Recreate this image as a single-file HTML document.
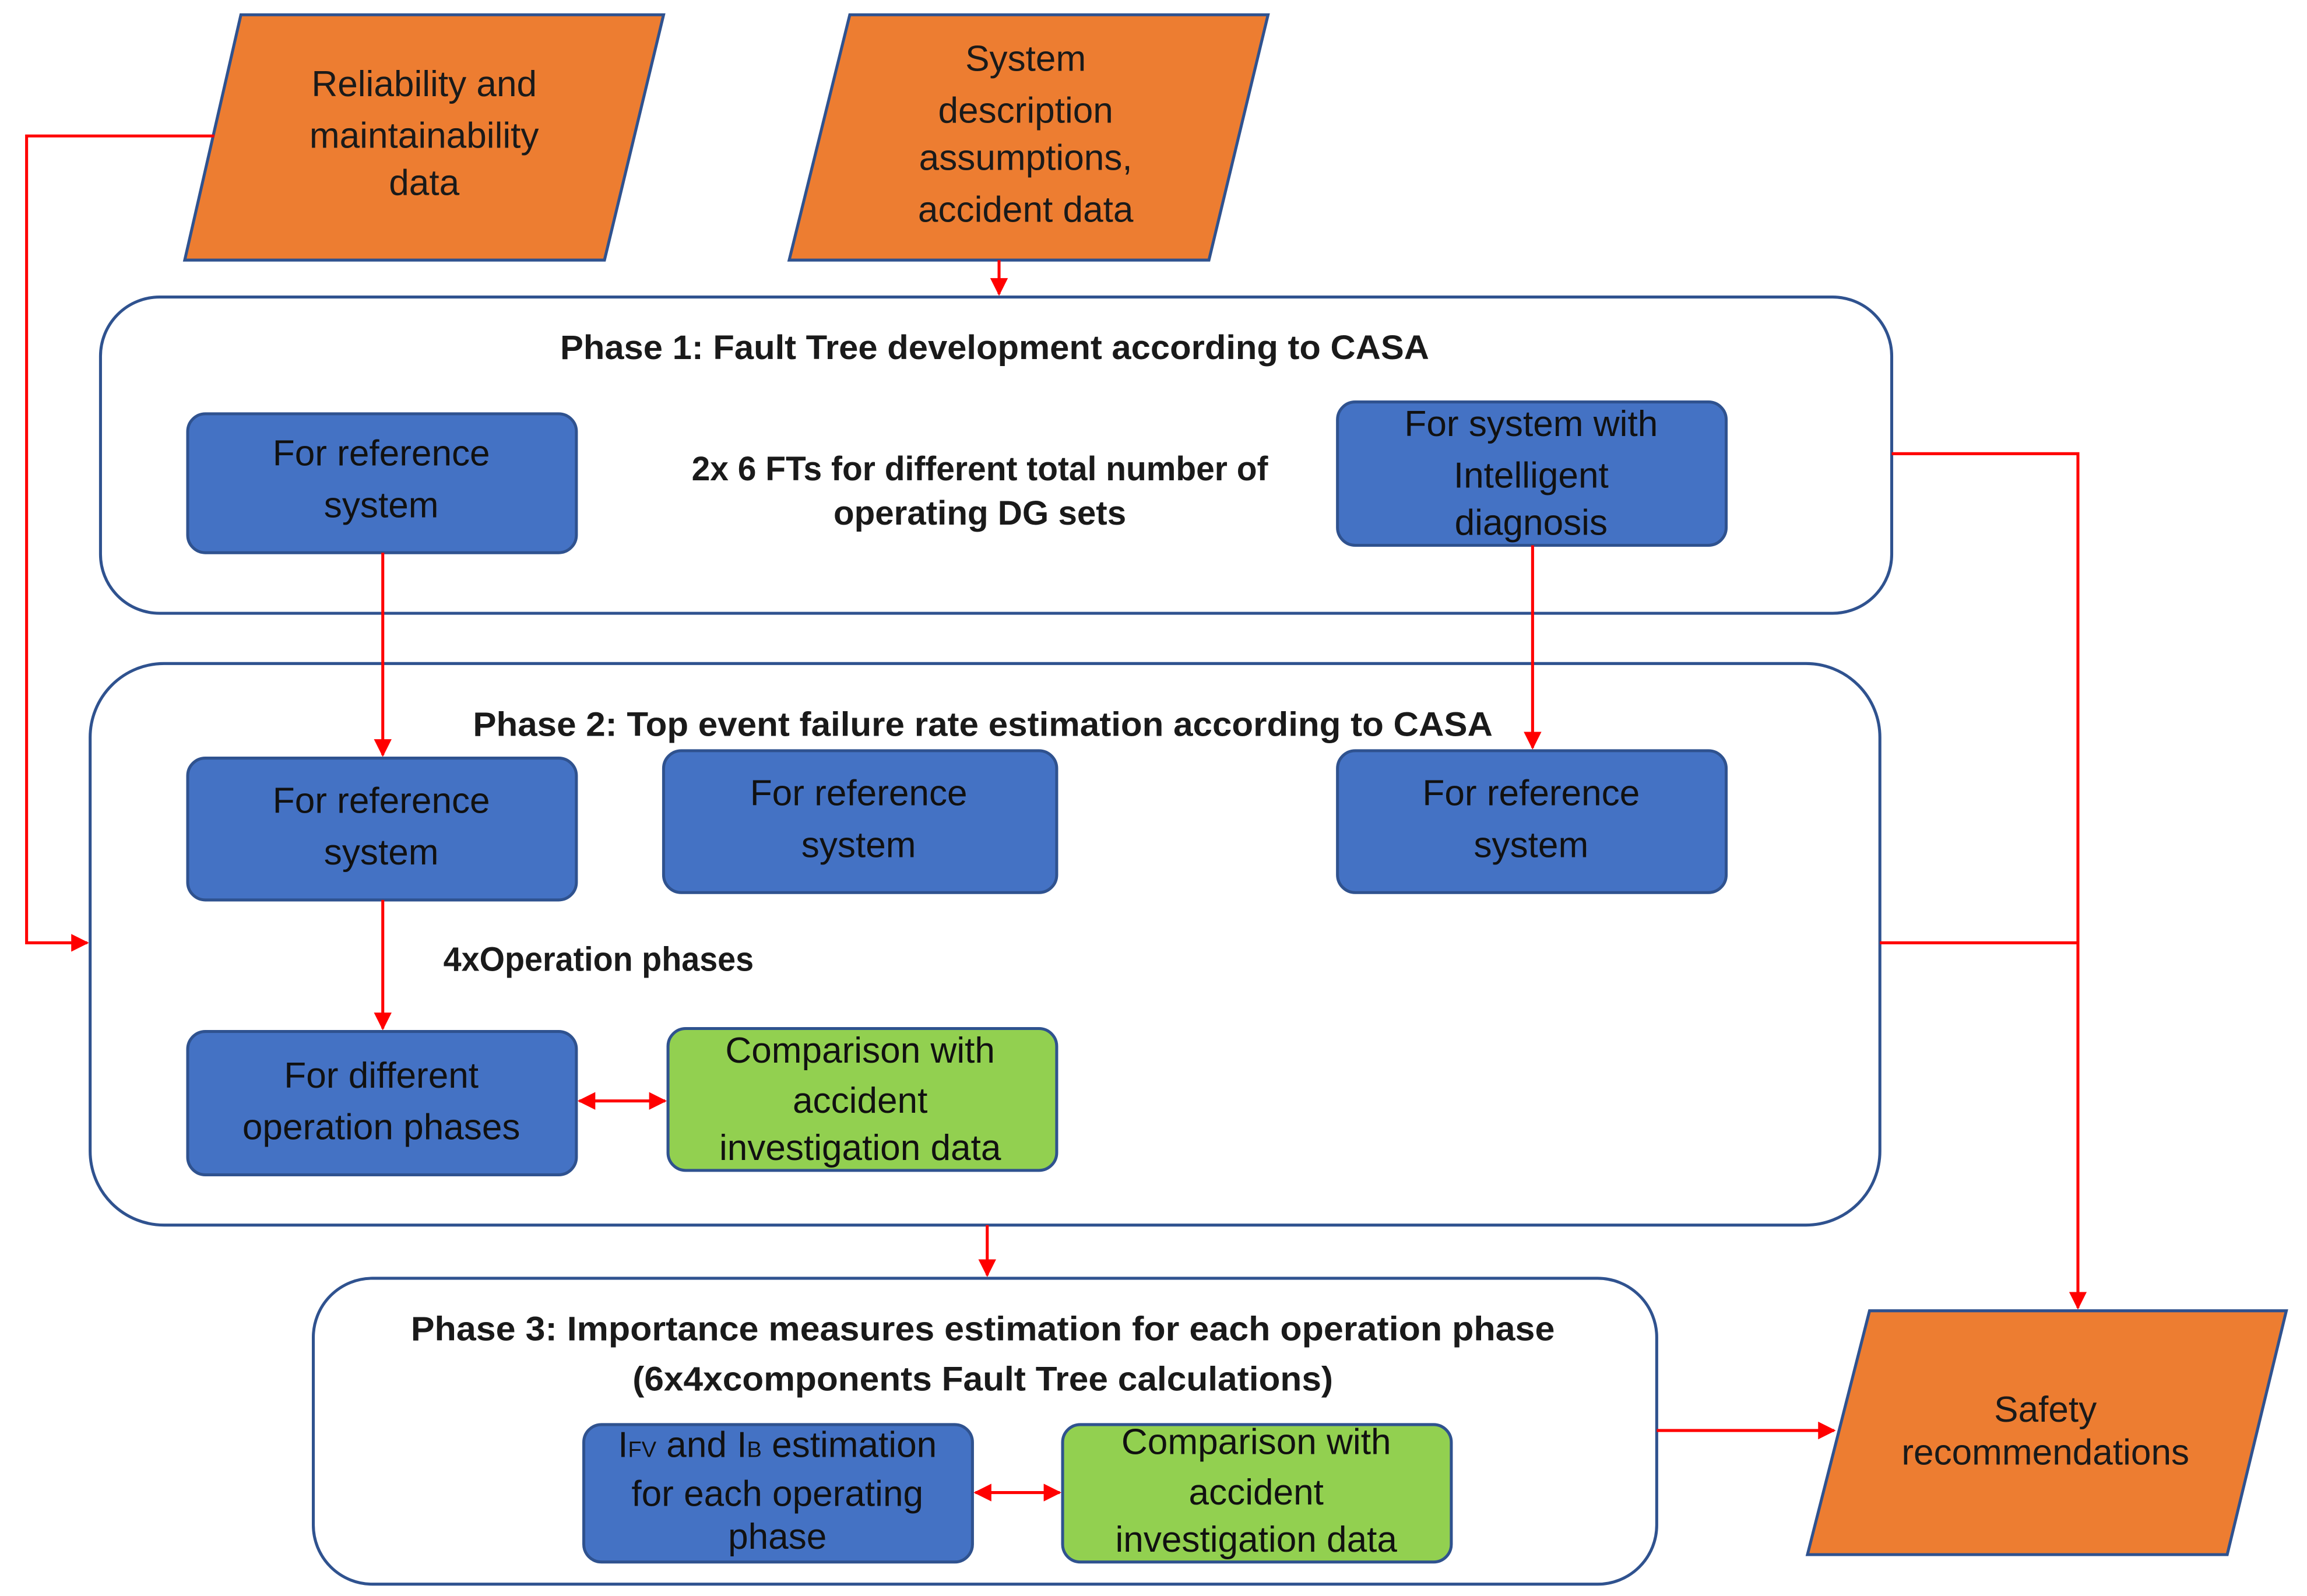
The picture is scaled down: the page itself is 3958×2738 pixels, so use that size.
<!DOCTYPE html>
<html><head><meta charset="utf-8"><style>html,body{margin:0;padding:0;background:#fff}svg{display:block}</style></head>
<body>
<svg width="3958" height="2738" viewBox="0 0 1561 1080" preserveAspectRatio="none" xmlns="http://www.w3.org/2000/svg" font-family="Liberation Sans, sans-serif">
<defs>
<marker id="a" viewBox="0 0 10 10" refX="9" refY="5" markerWidth="6" markerHeight="6" orient="auto-start-reverse"><path d="M0,0L10,5L0,10z" fill="#f00"/></marker>
</defs>
<g fill="#ED7D31" stroke="#2F528F" stroke-width="2">
<polygon points="163,10 449,10 409,176 125,176"/>
<polygon points="575,10 858,10 818,176 534,176"/>
<polygon points="1265,887 1547,887 1507,1052 1223,1052"/>
</g>
<g fill="#fff" stroke="#2F528F" stroke-width="2">
<rect x="68" y="201" width="1212" height="214" rx="40"/>
<rect x="61" y="449" width="1211" height="380" rx="50"/>
<rect x="212" y="865" width="909" height="207" rx="40"/>
</g>
<g fill="#4472C4" stroke="#2F528F" stroke-width="2">
<rect x="127" y="280" width="263" height="94" rx="12"/>
<rect x="905" y="272" width="263" height="97" rx="12"/>
<rect x="127" y="513" width="263" height="96" rx="12"/>
<rect x="449" y="508" width="266" height="96" rx="12"/>
<rect x="905" y="508" width="263" height="96" rx="12"/>
<rect x="127" y="698" width="263" height="97" rx="12"/>
<rect x="395" y="964" width="263" height="93" rx="12"/>
</g>
<g fill="#92D050" stroke="#2F528F" stroke-width="2">
<rect x="452" y="696" width="263" height="96" rx="12"/>
<rect x="719" y="964" width="263" height="93" rx="12"/>
</g>
<g fill="none" stroke="#f00" stroke-width="2">
<polyline points="145,92 18,92 18,638 59,638" marker-end="url(#a)"/>
<line x1="676" y1="176" x2="676" y2="199" marker-end="url(#a)"/>
<line x1="259" y1="374" x2="259" y2="511" marker-end="url(#a)"/>
<line x1="1037" y1="369" x2="1037" y2="506" marker-end="url(#a)"/>
<line x1="259" y1="609" x2="259" y2="696" marker-end="url(#a)"/>
<line x1="392" y1="745" x2="450" y2="745" marker-start="url(#a)" marker-end="url(#a)"/>
<line x1="668" y1="829" x2="668" y2="863" marker-end="url(#a)"/>
<line x1="660" y1="1010" x2="717" y2="1010" marker-start="url(#a)" marker-end="url(#a)"/>
<line x1="1121" y1="968" x2="1241" y2="968" marker-end="url(#a)"/>
<polyline points="1280,307 1406,307 1406,885" marker-end="url(#a)"/>
<line x1="1272" y1="638" x2="1406" y2="638"/>
</g>
<g font-size="24.5" text-anchor="middle" fill="#1a1a1a">
<text x="287" y="65">Reliability and</text><text x="287" y="100">maintainability</text><text x="287" y="132">data</text>
<text x="694" y="48">System</text><text x="694" y="83">description</text><text x="694" y="115">assumptions,</text><text x="694" y="150">accident data</text>
<text x="1384" y="962">Safety</text><text x="1384" y="991">recommendations</text>
</g>
<g font-size="23" font-weight="bold" text-anchor="middle" fill="#1a1a1a">
<text x="673" y="243" textLength="588" lengthAdjust="spacingAndGlyphs">Phase 1: Fault Tree development according to CASA</text>
<text x="663" y="325" textLength="390" lengthAdjust="spacingAndGlyphs">2x 6 FTs for different total number of</text>
<text x="663" y="355">operating DG sets</text>
<text x="665" y="498" textLength="690" lengthAdjust="spacingAndGlyphs">Phase 2: Top event failure rate estimation according to CASA</text>
<text x="405" y="657" textLength="210" lengthAdjust="spacingAndGlyphs">4xOperation phases</text>
<text x="665" y="907" textLength="774" lengthAdjust="spacingAndGlyphs">Phase 3: Importance measures estimation for each operation phase</text>
<text x="665" y="941" textLength="474" lengthAdjust="spacingAndGlyphs">(6x4xcomponents Fault Tree calculations)</text>
</g>
<g font-size="24.5" text-anchor="middle" fill="#111">
<text x="258" y="315">For reference</text><text x="258" y="350">system</text>
<text x="1036" y="295">For system with</text><text x="1036" y="330">Intelligent</text><text x="1036" y="362">diagnosis</text>
<text x="258" y="550">For reference</text><text x="258" y="585">system</text>
<text x="581" y="545">For reference</text><text x="581" y="580">system</text>
<text x="1036" y="545">For reference</text><text x="1036" y="580">system</text>
<text x="258" y="736">For different</text><text x="258" y="771">operation phases</text>
<text x="582" y="719">Comparison with</text><text x="582" y="753">accident</text><text x="582" y="785">investigation data</text>
<text x="526" y="986">I<tspan font-size="15">FV</tspan> and I<tspan font-size="15">B</tspan> estimation</text><text x="526" y="1019">for each operating</text><text x="526" y="1048">phase</text>
<text x="850" y="984">Comparison with</text><text x="850" y="1018">accident</text><text x="850" y="1050">investigation data</text>
</g>
</svg>
</body></html>
